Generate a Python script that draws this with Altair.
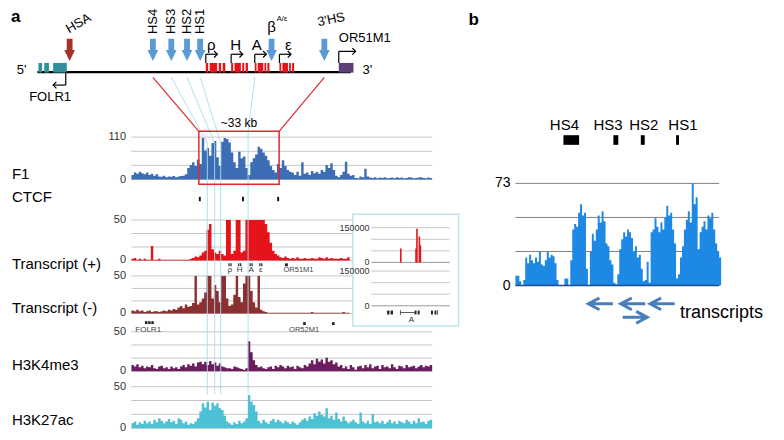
import altair as alt
import pandas as pd

FONT = "Liberation Sans"

# ---------------- values ----------------
# panel a signal tracks, 1-kb bins over the ~124 kb window
F1 = [12, 18, 15, 20, 16, 14, 18, 12, 15, 10,
      14, 8, 7, 10, 6, 8, 7, 9, 6, 8,
      9, 10, 14, 30, 38, 45, 35, 52, 40, 108,
      75, 82, 62, 95, 100, 58, 35, 98, 108, 105,
      96, 70, 45, 30, 72, 55, 60, 30, 12, 45,
      55, 65, 85, 80, 70, 62, 50, 35, 25, 18,
      40, 30, 50, 35, 25, 20, 18, 12, 20, 10,
      45, 15, 18, 12, 22, 16, 20, 15, 25, 20,
      38, 30, 42, 25, 10, 6, 12, 20, 46, 15,
      10, 12, 4, 3, 8, 6, 28, 8, 5, 4,
      6, 3, 5, 4, 6, 3, 4, 5, 3, 6,
      4, 5, 3, 4, 6, 5, 3, 4, 5, 6,
      4, 3, 5, 4]
TX_PLUS = [2, 3, 1, 2, 1, 2, 1, 1, 18, 1,
           1, 2, 1, 1, 1, 1, 1, 1, 1, 1,
           1, 1, 1, 1, 2, 3, 5, 4, 6, 10,
           12, 38, 45, 14, 10, 8, 12, 8, 6, 55,
           55, 8, 12, 55, 55, 10, 12, 55, 55, 55,
           55, 55, 55, 55, 55, 45, 35, 22, 12, 8,
           6, 4, 3, 5, 3, 2, 3, 2, 4, 2,
           2, 3, 2, 2, 3, 2, 2, 4, 3, 2,
           4, 2, 3, 2, 2, 2, 3, 2, 2, 4]
TX_MINUS = [4, 3, 5, 3, 4, 2, 3, 4, 2, 3,
            3, 2, 3, 4, 3, 5, 4, 6, 5, 8,
            10, 7, 12, 9, 10, 14, 55, 12, 15, 20,
            28, 55, 50, 20, 38, 30, 15, 55, 52, 20,
            10, 12, 25, 55, 22, 15, 40, 55, 50, 30,
            15, 8, 55, 5, 3, 2, 1, 1, 1, 1,
            1, 1, 1, 1, 1, 1, 1, 1, 1, 1,
            1, 1, 1, 1, 2, 1, 1, 1, 1, 1,
            1, 1, 1, 1, 1, 1, 1, 2, 1, 1]
H3K4ME3 = [8, 6, 9, 5, 7, 4, 6, 5, 8, 4,
           3, 6, 7, 4, 5, 3, 6, 4, 5, 3,
           6, 8, 5, 9, 7, 10, 6, 11, 12, 9,
           12, 8, 13, 9, 11, 7, 10, 6, 5, 4,
           4, 3, 6, 5, 4, 3, 2, 4, 38, 24,
           14, 8, 5, 6, 4, 3, 5, 6, 3, 7,
           5, 8, 6, 4, 7, 5, 6, 3, 7, 5,
           4, 8, 6, 10, 14, 9, 16, 12, 15, 10,
           17, 12, 14, 9, 11, 6, 8, 4, 6, 3,
           8, 5, 2, 6, 7, 4, 8, 5, 9, 4,
           6, 7, 3, 8, 5, 6, 4, 9, 5, 3,
           7, 6, 4, 8, 5, 6, 7, 4, 6, 8,
           5, 7, 6, 8]
H3K27AC = [6, 8, 4, 7, 5, 9, 6, 8, 5, 10,
           7, 12, 9, 6, 8, 11, 7, 9, 5, 12,
           10, 6, 8, 4, 6, 5, 8, 12, 20, 30,
           25, 32, 22, 31, 27, 30, 24, 22, 15, 8,
           6, 4, 7, 5, 9, 6, 8, 12, 40, 32,
           28, 20, 9, 6, 10, 7, 5, 9, 11, 7,
           10, 8, 6, 9, 7, 5, 8, 6, 4, 7,
           10, 12, 9, 14, 11, 18, 15, 20, 16, 14,
           24, 12, 15, 10, 19, 11, 8, 14, 9, 6,
           8, 10, 7, 5, 19, 8, 6, 9, 5, 17,
           7, 8, 6, 9, 5, 7, 10, 6, 8, 5,
           9, 7, 6, 10, 8, 5, 9, 6, 12, 7,
           8, 5, 9, 10]
CTCF_KB = [27.8, 45.6, 60.1]

# inset (alpha-globin A gene region)
INSET_POS = [3.75, 5.69, 5.81, 6.12, 6.25]
INSET_VAL = [60000, 60000, 145000, 112000, 74000]
INSET_BLOCKS = [(2.0, 2.3), (2.45, 2.75), (5.5, 5.75), (5.9, 6.15), (7.6, 7.85), (8.05, 8.3)]

# panel b coverage
PANEL_B = [7, 7, 3, 0, 4, 20, 16, 22, 18, 16,
           20, 17, 24, 15, 14, 18, 24, 20, 22, 21,
           16, 4, 0, 0, 0, 5, 5, 0, 18, 40,
           44, 42, 52, 58, 50, 52, 12, 0, 24, 37,
           32, 40, 50, 45, 53, 46, 30, 28, 18, 15,
           2, 1, 8, 26, 33, 38, 35, 40, 38, 34,
           24, 28, 20, 22, 12, 3, 4, 17, 2, 38,
           40, 48, 42, 38, 45, 40, 49, 57, 50, 52,
           40, 30, 5, 8, 20, 28, 40, 47, 53, 45,
           73, 58, 63, 26, 38, 42, 46, 40, 50, 48,
           52, 40, 30, 24, 20]
PB_MAX = 73
PB_HS_BOX = [(24.5, 32.5), (50, 52.5), (64, 66), (82, 83.5)]
PB_HS_LABEL = [25, 47.25, 65.5, 85.5]
PB_ARROWS_LEFT = [43.5, 60, 75]
PB_ARROWS_RIGHT = [61]

# locus schematic (kb relative to HS4)
HS_NAMES = ["HS4", "HS3", "HS2", "HS1"]
HS_KB = [0.0, 3.5, 6.5, 9.0]
GENE_NAMES = ["ρ", "H", "A", "ε"]
GENE_START = [10.07, 14.9, 19.4, 24.1]
GENE_END = [13.8, 18.1, 22.2, 26.9]
GENE_LABEL_KB = [11.1, 15.75, 19.8, 25.8]
EXON_FRAC = [(0, 0.12), (0.2, 0.58), (0.66, 0.78), (0.86, 1.0)]
HSA_KB = -15.86
BETA_KB = 22.6
HS3P_KB = 32.65
FOLR1_EXONS = [(-21.8, -21.1), (-20.7, -19.8), (-19.0, -16.4)]
FOLR1_TSS = -16.6
OR51M1_BOX = (35.4, 38.2)
LOCUS = (-22.0, 37.7)
ZOOM_START = 27.8   # track kb of HS4
ZOOM_END = 60.9
A_TRACK_KB = 48.1

TX_GENE_KB = [40.0, 44.0, 48.7, 52.7]
OR51M1_KB = 63.3
FOLR1_KB = [5.6, 6.9, 8.2]
OR52M1_KB = [70.8, 82.7]

# ---------------- layout & scales ----------------
# the 784x440 reference page is fitted into the 768x424 drawable area
W, H = 768, 424


def PX(v):
    return v * W / 784


def PY(v):
    return v * H / 440


def SX(domain, rng, clamp=False):
    return alt.Scale(domain=list(domain), range=[PX(r) for r in rng],
                     zero=False, nice=False, clamp=clamp)


def SY(domain, rng, clamp=False):
    return alt.Scale(domain=list(domain), range=[PY(r) for r in rng],
                     zero=False, nice=False, clamp=clamp)


XP = SX([0, 784], [0, 784])
YP = SY([0, 440], [0, 440])
XT = SX([0, 124], [126, 433])
XS = SX([-22, 38], [30, 351.6])
XI = SX([0, 10], [371, 451])
XB = SX([0, 105], [518, 728])


def sch_px(kb):
    return 30 + (kb + 22) * (351.6 - 30) / 60


def trk_px(kb):
    return 126 + kb * (433 - 126) / 124


def X(f, s):
    return alt.X(f, type="quantitative", scale=s, axis=None)


def Y(f, s):
    return alt.Y(f, type="quantitative", scale=s, axis=None)


def seg(df, xs, ys, color, width=1.0, opacity=1.0):
    df = pd.DataFrame(df)
    enc = {"x": X("x", xs), "y": Y("y", ys)}
    if "x2" in df:
        enc["x2"] = alt.X2("x2")
    if "y2" in df:
        enc["y2"] = alt.Y2("y2")
    return alt.Chart(df).mark_rule(color=color, strokeWidth=width, opacity=opacity).encode(**enc)


def box(df, xs, ys, fill, stroke="#000000", sw=0.0, fo=1.0):
    df = pd.DataFrame(df)
    return alt.Chart(df).mark_rect(fill=fill, fillOpacity=fo, stroke=stroke, strokeWidth=sw).encode(
        x=X("x", xs), x2=alt.X2("x2"), y=Y("y", ys), y2=alt.Y2("y2"))


def txt(df, xs, ys, size, align="center", baseline="middle", weight="normal",
        color="#000000", angle=0):
    df = pd.DataFrame(df)
    return alt.Chart(df).mark_text(font=FONT, fontSize=size, align=align, baseline=baseline,
                                   fontWeight=weight, color=color, angle=angle).encode(
        x=X("x", xs), y=Y("y", ys), text=alt.Text("t:N"))


def bars(values, xs, ys, color, step=1.0):
    # binned signal drawn as a stepped area (one flat step per bin)
    xv = [i * step for i in range(len(values) + 1)]
    vv = list(values) + [values[-1]]
    df = pd.DataFrame({"x": xv, "v": vv, "z": [0] * len(xv)})
    return alt.Chart(df).mark_area(color=color, interpolate="step-after", opacity=1).encode(
        x=X("x", xs), y=Y("v", ys), y2=alt.Y2("z"))


def pts(df, xs, ys, shape, size, color, filled=True, sw=1.0):
    df = pd.DataFrame(df)
    return alt.Chart(df).mark_point(shape=shape, size=size, filled=filled, color=color,
                                    strokeWidth=sw, opacity=1).encode(x=X("x", xs), y=Y("y", ys))


GRID = "#c6c6c6"
L = []

# ---------------- panel a tracks ----------------
TRACKS = [
    ("F1", F1, 110, 178, 134, "#3d6db4", 172),
    ("Transcript (+)", TX_PLUS, 50, 262, 220, "#e5141b", 266),
    ("Transcript (-)", TX_MINUS, 50, 317, 278, "#8a3030", 311),
    ("H3K4me3", H3K4ME3, 50, 377, 336, "#6b1d5e", 370),
    ("H3K27ac", H3K27AC, 50, 436, 393, "#4cc0d4", 428),
]
for name, vals, ymax, base, top, color, ly in TRACKS:
    ys = SY([0, ymax], [base, top], clamp=True)
    L.append(seg({"x": [0] * 4, "x2": [124] * 4, "y": [0, ymax / 3, 2 * ymax / 3, ymax]}, XT, ys, GRID))
    L.append(bars(vals, XT, ys, color))
    L.append(txt({"x": [-2.2, -2.2], "y": [ymax, 0], "t": [str(ymax), "0"]}, XT, ys, 11,
                 align="right", color="#333333"))
    L.append(txt({"x": [4], "y": [ly], "t": [name]}, XP, YP, 15, align="left"))

# CTCF
L.append(txt({"x": [4], "y": [196], "t": ["CTCF"]}, XP, YP, 15, align="left"))
L.append(box({"x": CTCF_KB, "x2": [k + 0.8 for k in CTCF_KB], "y": [196] * 3, "y2": [200.5] * 3},
             XT, YP, "#111111"))

# gene annotations under the transcript tracks
sq = []
for k in TX_GENE_KB:
    sq += [(k, k + 0.5), (k + 0.8, k + 1.3)]
L.append(box({"x": [a for a, b in sq], "x2": [b for a, b in sq], "y": [265] * len(sq), "y2": [268] * len(sq)},
             XT, YP, "#222222"))
L.append(txt({"x": [k + 0.65 for k in TX_GENE_KB], "y": [271.5] * 4, "t": GENE_NAMES}, XT, YP, 8,
             color="#333333"))
L.append(box({"x": [OR51M1_KB], "x2": [OR51M1_KB + 1.2], "y": [265], "y2": [268]}, XT, YP, "#222222"))
L.append(txt({"x": [OR51M1_KB - 0.6], "y": [272], "t": ["OR51M1"]}, XT, YP, 7.5, align="left",
             color="#444444"))
L.append(box({"x": FOLR1_KB, "x2": [k + 1.0 for k in FOLR1_KB], "y": [325] * 3, "y2": [328] * 3},
             XT, YP, "#222222"))
L.append(txt({"x": [1.6], "y": [334], "t": ["FOLR1"]}, XT, YP, 8, align="left", color="#444444"))
L.append(box({"x": OR52M1_KB, "x2": [k + 1.1 for k in OR52M1_KB], "y": [326] * 2, "y2": [329] * 2},
             XT, YP, "#222222"))
L.append(txt({"x": [65], "y": [334.5], "t": ["OR52M1"]}, XT, YP, 7.5, align="left", color="#444444"))

# light-blue connectors from the schematic down through the tracks
BLUE = "#a9dbee"
c_x, c_y, c_x2, c_y2 = [], [], [], []
for kb in HS_KB[1:]:
    bx = trk_px(kb + ZOOM_START)
    c_x += [sch_px(kb), bx]
    c_y += [72, 140]
    c_x2 += [bx, bx]
    c_y2 += [140, 401]
ax = trk_px(A_TRACK_KB)
c_x += [sch_px(GENE_START[2]), ax]
c_y += [72, 128]
c_x2 += [ax, ax]
c_y2 += [128, 401]
L.append(seg({"x": c_x, "y": c_y, "x2": c_x2, "y2": c_y2}, XP, YP, BLUE, 1.0, 0.9))

# red zoom box and its connectors
RED = "#e02a2f"
L.append(box({"x": [ZOOM_START], "x2": [ZOOM_END], "y": [128], "y2": [183]}, XT, YP, "#ffffff",
             stroke=RED, sw=1.5, fo=0))
L.append(seg({"x": [sch_px(0), sch_px(HS3P_KB)], "y": [72, 72],
              "x2": [trk_px(ZOOM_START), trk_px(ZOOM_END)], "y2": [128, 128]}, XP, YP, RED, 1.2))
L.append(txt({"x": [(ZOOM_START + ZOOM_END) / 2], "y": [119], "t": ["~33 kb"]}, XT, YP, 12))

# ---------------- inset ----------------
L.append(box({"x": [352], "x2": [460], "y": [214], "y2": [330]}, XP, YP, "#ffffff", stroke="#bfe3ee", sw=1.5))
for base, top in [(264, 228), (309, 273)]:
    ys = SY([0, 150000], [base, top])
    L.append(seg({"x": [0] * 3, "x2": [10] * 3, "y": [50000, 100000, 150000]}, XI, ys, GRID))
    L.append(seg({"x": [0], "x2": [10], "y": [0]}, XI, ys, "#9a9a9a"))
    L.append(txt({"x": [-0.25, -0.25], "y": [150000, 0], "t": ["150000", "0"]}, XI, ys, 9,
                 align="right", color="#333333"))
ys_in = SY([0, 150000], [264, 228])
L.append(seg({"x": INSET_POS, "y": INSET_VAL, "y2": [0] * len(INSET_POS)}, XI, ys_in, "#e5141b", 1.6))
L.append(seg({"x": [3.7], "x2": [5.5], "y": [316]}, XI, YP, "#333333", 0.8))
L.append(seg({"x": [3.7, 8.45], "y": [313.5, 313.5], "y2": [318.5, 318.5]}, XI, YP, "#333333", 0.8))
L.append(box({"x": [a for a, b in INSET_BLOCKS], "x2": [b for a, b in INSET_BLOCKS],
              "y": [314] * 6, "y2": [318] * 6}, XI, YP, "#222222"))
L.append(txt({"x": [5.1], "y": [324], "t": ["A"]}, XI, YP, 8, color="#333333"))

# ---------------- locus schematic ----------------
L.append(seg({"x": [LOCUS[0]], "x2": [LOCUS[1]], "y": [66.5]}, XS, YP, "#000000", 2.2))
L.append(box({"x": [a for a, b in FOLR1_EXONS], "x2": [b for a, b in FOLR1_EXONS],
              "y": [57] * 3, "y2": [67] * 3}, XS, YP, "#2f8f9d"))
ex0, ex1 = [], []
for s, e in zip(GENE_START, GENE_END):
    for a, b in EXON_FRAC:
        ex0.append(s + a * (e - s))
        ex1.append(s + b * (e - s))
L.append(box({"x": ex0, "x2": ex1, "y": [57] * len(ex0), "y2": [67] * len(ex0)}, XS, YP, "#e5141b"))
L.append(box({"x": [OR51M1_BOX[0]], "x2": [OR51M1_BOX[1]], "y": [57], "y2": [67]}, XS, YP, "#5d3f7a"))

# bent TSS arrows
tss = GENE_START + [OR51M1_BOX[0]]
tip = [s + 2.2 for s in GENE_START] + [OR51M1_BOX[0] + 3.2]
ty = [48, 48, 48, 48, 45]
L.append(seg({"x": tss, "y": ty, "y2": [57] * 5}, XS, YP, "#000000", 1.2))
L.append(seg({"x": tss, "x2": tip, "y": ty}, XS, YP, "#000000", 1.2))
L.append(pts({"x": tip, "y": ty}, XS, YP, "M -1 -1 L 0 0 L -1 1", 42, "#000000", filled=False, sw=1.2))
L.append(seg({"x": [FOLR1_TSS], "y": [67], "y2": [80]}, XS, YP, "#000000", 1.2))
L.append(seg({"x": [FOLR1_TSS - 2.4], "x2": [FOLR1_TSS], "y": [80]}, XS, YP, "#000000", 1.2))
L.append(pts({"x": [FOLR1_TSS - 2.4], "y": [80]}, XS, YP, "M 1 -1 L 0 0 L 1 1", 42, "#000000",
             filled=False, sw=1.2))

# block arrows for hypersensitive sites
ARROW = "M -0.26 -1 L 0.26 -1 L 0.26 0 L 0.48 0 L 0 1 L -0.48 0 L -0.26 0 Z"
L.append(pts({"x": HS_KB + [BETA_KB, HS3P_KB], "y": [43.5] * 6}, XS, YP, ARROW, 500, "#5b9bd5"))
L.append(pts({"x": [HSA_KB], "y": [43.5]}, XS, YP, ARROW, 500, "#a3332d"))

# schematic labels
L.append(txt({"x": HS_KB, "y": [27] * 4, "t": HS_NAMES}, XS, YP, 13, align="left", angle=270))
L.append(txt({"x": [HSA_KB + 1.7], "y": [16], "t": ["HSA"]}, XS, YP, 13, angle=330))
L.append(txt({"x": GENE_LABEL_KB, "y": [38] * 4, "t": GENE_NAMES}, XS, YP, 15))
L.append(txt({"x": [BETA_KB], "y": [20], "t": ["β"]}, XS, YP, 15))
L.append(txt({"x": [BETA_KB + 1.0], "y": [11.5], "t": ["A/ε"]}, XS, YP, 7.5, align="left"))
L.append(txt({"x": [HS3P_KB + 1.3], "y": [12], "t": ["3'HS"]}, XS, YP, 13, angle=348))
L.append(txt({"x": [OR51M1_BOX[0]], "y": [31], "t": ["OR51M1"]}, XS, YP, 13, align="left"))
L.append(txt({"x": [9, 362], "y": [64, 64], "t": ["5'", "3'"]}, XP, YP, 13, align="left"))
L.append(txt({"x": [43], "y": [92], "t": ["FOLR1"]}, XP, YP, 13))
L.append(txt({"x": [3, 470], "y": [9, 12], "t": ["a", "b"]}, XP, YP, 17, align="left", weight="bold"))

# ---------------- panel b ----------------
YB = SY([0, PB_MAX], [288, 182])
L.append(seg({"x": [0] * 3, "x2": [104] * 3, "y": [PB_MAX / 3, 2 * PB_MAX / 3, PB_MAX]}, XB, YB, "#808080"))
L.append(bars(PANEL_B, XB, YB, "#1e88e5"))
L.append(seg({"x": [0], "x2": [104], "y": [0]}, XB, YB, "#1f4e8c", 1.5))
L.append(txt({"x": [-2.5, -2.5], "y": [PB_MAX, 0], "t": [str(PB_MAX), "0"]}, XB, YB, 14, align="right"))
L.append(box({"x": [a for a, b in PB_HS_BOX], "x2": [b for a, b in PB_HS_BOX],
              "y": [132] * 4, "y2": [142] * 4}, XB, YP, "#000000"))
L.append(txt({"x": PB_HS_LABEL, "y": [121] * 4, "t": HS_NAMES}, XB, YP, 15))
LEFT = "M 1 0 L -1 0 M -0.1 -0.48 L -1 0 L -0.1 0.48"
RIGHT = "M -1 0 L 1 0 M 0.1 -0.48 L 1 0 L 0.1 0.48"
L.append(pts({"x": PB_ARROWS_LEFT, "y": [307] * 3}, XB, YP, LEFT, 600, "#4a7ebb", filled=False, sw=3))
L.append(pts({"x": PB_ARROWS_RIGHT, "y": [321]}, XB, YP, RIGHT, 600, "#4a7ebb", filled=False, sw=3))
L.append(txt({"x": [686], "y": [316], "t": ["transcripts"]}, XP, YP, 18, align="left"))

chart = alt.layer(*L).resolve_scale(x="independent", y="independent").properties(
    width=W, height=H, padding=0, autosize=alt.AutoSizeParams(type="none"),
    background="#ffffff",
).configure_view(strokeOpacity=0)

chart.save("out.html", embed_options={"renderer": "svg", "actions": False})
